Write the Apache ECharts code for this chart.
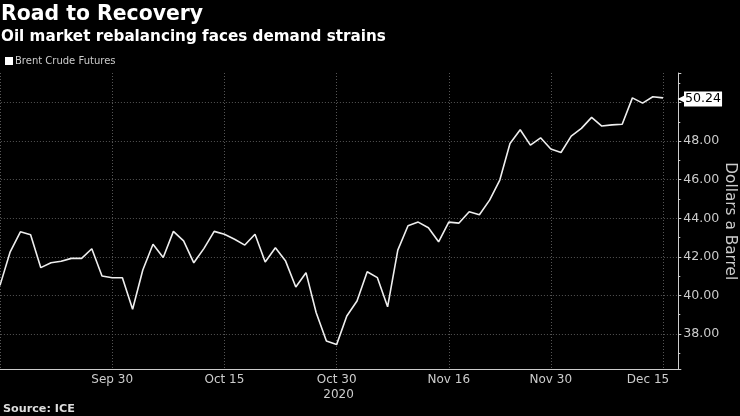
<!DOCTYPE html>
<html>
<head>
<meta charset="utf-8">
<style>
  html, body { margin: 0; padding: 0; background: #000; }
  #chart { width: 740px; height: 416px; }
</style>
<script src="https://cdn.jsdelivr.net/npm/echarts@6/dist/echarts.min.js"></script>
</head>
<body>
<div id="chart"></div>
<script>
const dates = [
  'Sep 15', 'Sep 16', 'Sep 17', 'Sep 18', 'Sep 21', 'Sep 22', 'Sep 23', 'Sep 24', 'Sep 25', 'Sep 28', 'Sep 29', 'Sep 30',
  'Oct 1', 'Oct 2', 'Oct 5', 'Oct 6', 'Oct 7', 'Oct 8', 'Oct 9', 'Oct 12', 'Oct 13', 'Oct 14', 'Oct 15', 'Oct 16',
  'Oct 19', 'Oct 20', 'Oct 21', 'Oct 22', 'Oct 23', 'Oct 26', 'Oct 27', 'Oct 28', 'Oct 29', 'Oct 30',
  'Nov 2', 'Nov 3', 'Nov 4', 'Nov 5', 'Nov 6', 'Nov 9', 'Nov 10', 'Nov 11', 'Nov 12', 'Nov 13', 'Nov 16', 'Nov 17',
  'Nov 18', 'Nov 19', 'Nov 20', 'Nov 23', 'Nov 24', 'Nov 25', 'Nov 26', 'Nov 27', 'Nov 30',
  'Dec 1', 'Dec 2', 'Dec 3', 'Dec 4', 'Dec 7', 'Dec 8', 'Dec 9', 'Dec 10', 'Dec 11', 'Dec 14', 'Dec 15', 'Dec 16'
]
const brent = [
  40.52, 42.26, 43.30, 43.15, 41.44, 41.69, 41.77, 41.92, 41.92, 42.42, 41.01, 40.92,
  40.92, 39.28, 41.32, 42.65, 41.97, 43.32, 42.83, 41.69, 42.44, 43.32, 43.17, 42.91,
  42.61, 43.17, 41.73, 42.47, 41.78, 40.44, 41.18, 39.10, 37.64, 37.45,
  38.93, 39.71, 41.23, 40.92, 39.41, 42.35, 43.61, 43.80, 43.51, 42.78, 43.80, 43.75,
  44.34, 44.18, 44.94, 45.98, 47.88, 48.59, 47.79, 48.17, 47.59,
  47.41, 48.26, 48.66, 49.23, 48.78, 48.84, 48.87, 50.24, 49.97, 50.30, 50.24
]
const labelDates = ['Sep 30', 'Oct 15', 'Oct 30', 'Nov 16', 'Nov 30', 'Dec 15']
const minorDates = ['Sep 22', 'Oct 8', 'Oct 23', 'Nov 9', 'Nov 23', 'Dec 8']

const font = 'DejaVu Sans'
const lastValue = brent[brent.length - 1]
const lastDate = dates[brent.length - 1]

const chart = echarts.init(document.getElementById('chart'))

chart.setOption({
  backgroundColor: '#000',
  animation: false,
  title: [
    {
      text: 'Road to Recovery',
      left: 1,
      top: 5,
      padding: 0,
      textStyle: { color: '#fff', fontFamily: font, fontWeight: 'bold', fontSize: 20.4 }
    },
    {
      text: 'Oil market rebalancing faces demand strains',
      left: 1,
      top: 30,
      padding: 0,
      textStyle: { color: '#fff', fontFamily: font, fontWeight: 'bold', fontSize: 15.2 }
    },
    {
      text: 'Source: ICE',
      left: 3,
      top: 404,
      padding: 0,
      textStyle: { color: '#ddd', fontFamily: font, fontWeight: 'bold', fontSize: 11.2 }
    }
  ],
  legend: {
    left: 5,
    top: 56,
    padding: 0,
    itemWidth: 8,
    itemHeight: 8,
    itemGap: 4,
    icon: 'rect',
    textStyle: { color: '#ccc', fontFamily: font, fontSize: 10, padding: [0, 0, 0, -3] }
  },
  grid: { left: -5.1, top: 73, width: 683.4, height: 296.5, outerBoundsMode: 'none' },
  xAxis: {
    type: 'category',
    data: dates,
    axisLine: { lineStyle: { color: '#ccc', width: 1 } },
    axisTick: {
      alignWithLabel: true,
      length: 3,
      lineStyle: { color: '#ccc' },
      interval: (i, name) => labelDates.includes(name) || minorDates.includes(name)
    },
    axisLabel: {
      color: '#ccc',
      fontFamily: font,
      fontSize: 12,
      margin: 3,
      lineHeight: 15,
      interval: (i, name) => labelDates.includes(name),
      formatter: name => {
        if (name === 'Oct 30') return name + '\n{year|2020}'
        if (name === 'Dec 15') return '{end|' + name + '}'
        return name
      },
      rich: {
        year: { color: '#ccc', fontFamily: font, fontSize: 12, lineHeight: 15, padding: [0, 0, 0, 4] },
        end: { color: '#ccc', fontFamily: font, fontSize: 12, padding: [0, 30, 0, 0] }
      }
    },
    splitLine: {
      show: true,
      alignWithLabel: true,
      interval: (i, name) => i === 0 || labelDates.includes(name),
      lineStyle: { color: '#555', type: [1, 2], width: 1 }
    }
  },
  yAxis: {
    type: 'value',
    position: 'right',
    min: 36.16,
    max: 51.53,
    splitNumber: 8,
    name: 'Dollars a Barrel',
    nameLocation: 'middle',
    nameRotate: -90,
    nameGap: 44,
    nameMoveOverlap: false,
    nameTextStyle: { color: '#ccc', fontFamily: font, fontSize: 15.3 },
    axisLine: { show: true, lineStyle: { color: '#ccc', width: 1 } },
    axisTick: { show: true, length: 3, lineStyle: { color: '#ccc' } },
    minorTick: { show: true, splitNumber: 2, length: 2, lineStyle: { color: '#ccc' } },
    axisLabel: {
      color: '#ccc',
      fontFamily: font,
      fontSize: 12.6,
      margin: 5,
      showMinLabel: false,
      showMaxLabel: false,
      formatter: v => v.toFixed(2)
    },
    splitLine: {
      show: true,
      showMinLine: false,
      showMaxLine: false,
      lineStyle: { color: '#555', type: [1, 2], width: 1 }
    }
  },
  series: [
    {
      name: 'Brent Crude Futures',
      type: 'line',
      data: brent,
      symbol: 'none',
      itemStyle: { color: '#fff' },
      lineStyle: { color: '#eee', width: 1.6 },
      endLabel: {
        show: true,
        offset: [13, 1],
        color: '#000',
        backgroundColor: '#fff',
        fontFamily: font,
        fontSize: 12.6,
        padding: [1, 1, 1, 1],
        formatter: () => lastValue.toFixed(2)
      },
      markPoint: {
        silent: true,
        symbol: 'triangle',
        symbolSize: 7,
        symbolRotate: 90,
        symbolOffset: [18, 1],
        itemStyle: { color: '#fff' },
        label: { show: false },
        data: [{ coord: [lastDate, lastValue] }]
      }
    }
  ]
})
</script>
</body>
</html>
